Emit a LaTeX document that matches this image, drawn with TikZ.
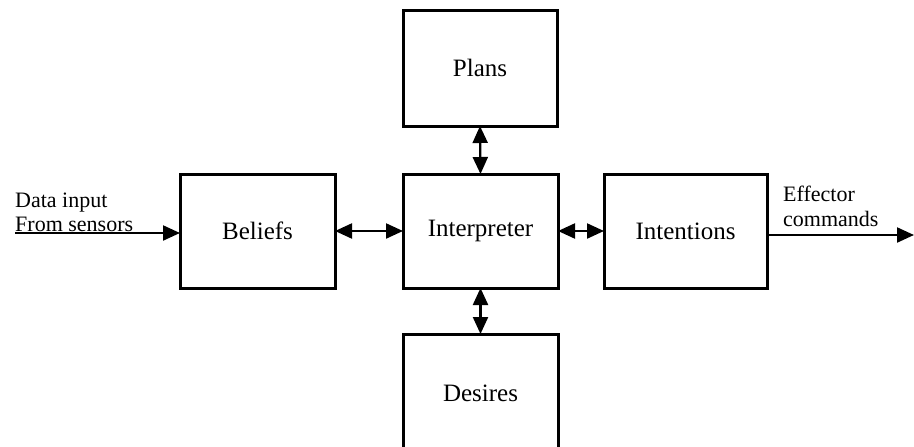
\documentclass[tikz,border=0pt]{standalone}
\usepackage{fontspec}
\setmainfont{Liberation Serif}
\usetikzlibrary{arrows.meta}
\begin{document}
\begin{tikzpicture}[x=1pt,y=-1pt,
  block/.style={draw=black,line width=3pt,fill=white,minimum width=155pt,
    minimum height=114pt,inner sep=0pt,outer sep=0pt,
    font=\fontsize{25}{30}\selectfont},
  tip/.style={Triangle[length=17pt,width=15pt]},
  link/.style={line width=2.2pt,{Triangle[length=17pt,width=15pt]}-{Triangle[length=17pt,width=15pt]}},
  flow/.style={line width=2.2pt,-{Triangle[length=17pt,width=15pt]}},
  side/.style={anchor=base west,inner sep=0pt,font=\fontsize{22}{26}\selectfont}]
  \useasboundingbox (0,0) rectangle (914,447);
  \clip (0,0) rectangle (914,447);

  % the five components
  \node[block] (beliefs) at (257.5,231) {Beliefs};
  \node[block] (interp)  at (480.5,231) {Interpreter};
  \node[block,minimum width=163pt] (intent) at (685.5,231) {Intentions};
  \node[block,minimum width=154pt,minimum height=116pt] (plans) at (480,68) {Plans};
  \node[block,minimum height=118pt] (desires) at (480.5,393) {Desires};

  % two-way links to the interpreter
  \draw[link] (beliefs.east) -- (interp.west);
  \draw[link] (interp.east) -- (intent.west);
  \draw[link] (plans.south) -- (interp.north);
  \draw[link] (interp.south) -- (desires.north);

  % input and output
  \coordinate (src) at (15,233);
  \coordinate (sink) at (914,235);
  \draw[flow] (src) -- (src -| beliefs.west);
  \draw[flow] (sink -| intent.east) -- (sink);

  \node[side] (inlbl1) at (15,207) {Data input};
  \node[side] (inlbl2) at (15,231) {From sensors};
  \node[side] (outlbl1) at (783,201) {Effector};
  \node[side] (outlbl2) at (783,226) {commands};
\end{tikzpicture}
\end{document}
